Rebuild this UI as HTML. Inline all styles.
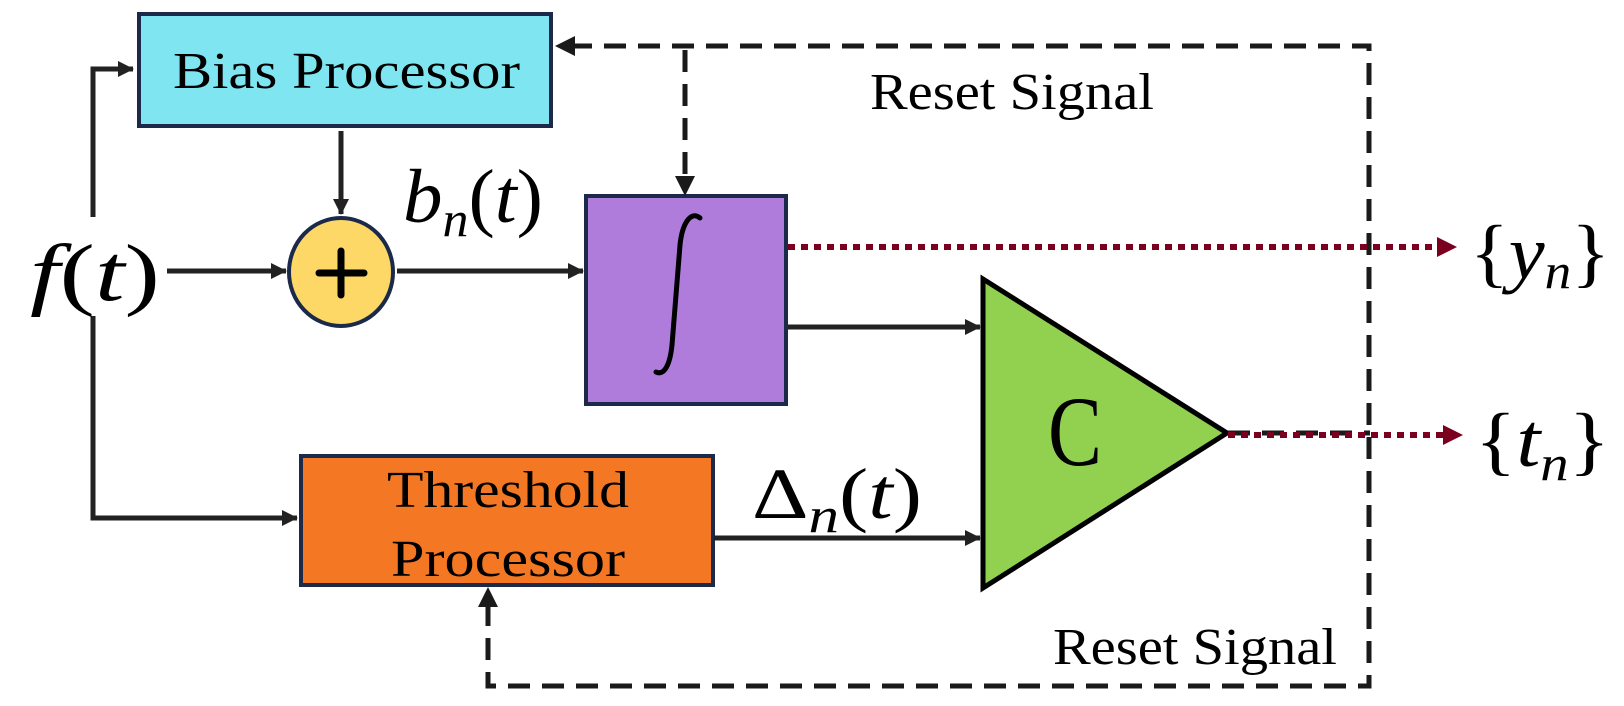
<!DOCTYPE html>
<html><head><meta charset="utf-8"><style>html,body{margin:0;padding:0;background:#fff}svg{display:block}</style></head><body>
<svg width="1624" height="706" viewBox="0 0 1624 706" xmlns="http://www.w3.org/2000/svg">
<defs>
<marker id="ab" markerWidth="16" markerHeight="16" refX="15" refY="8" orient="auto" markerUnits="userSpaceOnUse" viewBox="0 0 16 16"><path d="M0,0L16,8L0,16z" fill="#222"/></marker>
</defs>
<g font-family="Liberation Serif, serif" fill="#000">
<rect x="139" y="14" width="412" height="112" fill="#7fe5f0" stroke="#1b2a4a" stroke-width="4"/>
<text x="173" y="88" font-size="52" textLength="347" lengthAdjust="spacingAndGlyphs">Bias Processor</text>
<rect x="586" y="196" width="200" height="208" fill="#b07cdc" stroke="#1b2a4a" stroke-width="4"/>
<path d="M700,218 C690,210 682,225 680,245 L672,345 C670,365 664,376 656,372" stroke="#000" stroke-width="5" fill="none" stroke-linecap="round"/>
<ellipse cx="341" cy="272" rx="52" ry="54" fill="#fdd866" stroke="#1b2a4a" stroke-width="4"/>
<path d="M341,251V295M319,273H364" stroke="#000" stroke-width="7" stroke-linecap="round"/>
<rect x="301" y="456" width="412" height="129" fill="#f47724" stroke="#1b2a4a" stroke-width="4"/>
<text x="387" y="507" font-size="52" textLength="242" lengthAdjust="spacingAndGlyphs">Threshold</text>
<text x="391" y="576" font-size="52" textLength="234" lengthAdjust="spacingAndGlyphs">Processor</text>
<polygon points="983,279 983,588 1227,433" fill="#92d050" stroke="#000" stroke-width="5"/>
<text x="1048" y="465" font-size="100" textLength="54" lengthAdjust="spacingAndGlyphs">C</text>
<g stroke="#222" stroke-width="5" fill="none">
<path d="M93,217V69H133" marker-end="url(#ab)"/>
<path d="M93,316V518H297" marker-end="url(#ab)"/>
<path d="M341,131V214" marker-end="url(#ab)"/>
<path d="M167,271H286" marker-end="url(#ab)"/>
<path d="M397,271H583" marker-end="url(#ab)"/>
<path d="M788,327H980" marker-end="url(#ab)"/>
<path d="M714,538H980" marker-end="url(#ab)"/>
</g>
<g stroke="#1a1a1a" stroke-width="5" fill="none" stroke-dasharray="22,12">
<path d="M570,46H1369V686H488V592"/>
<path d="M685,50V178"/>
<path d="M1228,433H1370"/>
</g>
<path d="M555,46L575,36V56z" fill="#1a1a1a"/>
<path d="M685,196L675,176H695z" fill="#1a1a1a"/>
<path d="M488,587L478,607H498z" fill="#1a1a1a"/>
<g stroke="#7b0020" stroke-width="6" fill="none" stroke-dasharray="7,6">
<path d="M788,247H1440"/>
<path d="M1228,435H1445"/>
</g>
<path d="M1457,247L1437,237V257z" fill="#7b0020"/>
<path d="M1463,435L1443,425V445z" fill="#7b0020"/>
<text x="870" y="109" font-size="52" textLength="284" lengthAdjust="spacingAndGlyphs">Reset Signal</text>
<text x="1053" y="664" font-size="52" textLength="284" lengthAdjust="spacingAndGlyphs">Reset Signal</text>
<text x="30" y="300" font-size="80" textLength="130" lengthAdjust="spacingAndGlyphs"><tspan font-style="italic">f</tspan>(<tspan font-style="italic">t</tspan>)</text>
<text x="403" y="222" font-size="76" textLength="140" lengthAdjust="spacingAndGlyphs"><tspan font-style="italic">b</tspan><tspan font-style="italic" font-size="50" dy="14">n</tspan><tspan dy="-14">(</tspan><tspan font-style="italic">t</tspan>)</text>
<text x="752" y="518" font-size="72" textLength="170" lengthAdjust="spacingAndGlyphs">Δ<tspan font-style="italic" font-size="50" dy="14">n</tspan><tspan dy="-14">(</tspan><tspan font-style="italic">t</tspan>)</text>
<text x="1470" y="278" font-size="76" textLength="140" lengthAdjust="spacingAndGlyphs">{<tspan font-style="italic">y</tspan><tspan font-style="italic" font-size="50" dy="10">n</tspan><tspan dy="-10">}</tspan></text>
<text x="1475" y="466" font-size="76" textLength="135" lengthAdjust="spacingAndGlyphs">{<tspan font-style="italic">t</tspan><tspan font-style="italic" font-size="50" dy="14">n</tspan><tspan dy="-14">}</tspan></text>
</g>
</svg>
</body></html>
